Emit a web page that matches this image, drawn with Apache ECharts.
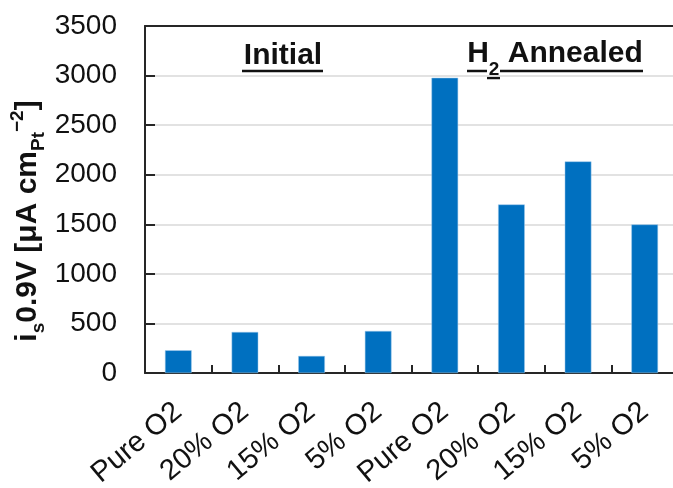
<!DOCTYPE html>
<html>
<head>
<meta charset="utf-8">
<script src="https://cdn.jsdelivr.net/npm/echarts@6/dist/echarts.min.js"></script>
<style>
html,body{margin:0;padding:0;background:#fff;}
#chart{width:673px;height:488px;}
</style>
</head>
<body>
<div id="chart"></div>
<script>
const categories = ['Pure O2', '20% O2', '15% O2', '5% O2', 'Pure O2', '20% O2', '15% O2', '5% O2'];
const values = [229, 414, 172, 424, 2978, 1700, 2134, 1498];
const yTicks = { min: 0, max: 3500, interval: 500 };
const groupLabels = ['Initial', 'H2 Annealed'];

const chart = echarts.init(document.getElementById('chart'));
const AX = '#262626';
const FONT = '"Liberation Sans", Arial, sans-serif';

const option = {
  animation: false,
  grid: { left: 145, right: -5, top: 26, bottom: 115, containLabel: false, outerBoundsMode: 'none' },
  xAxis: [{
    type: 'category',
    data: categories,
    boundaryGap: true,
    axisLine: { show: true, lineStyle: { color: AX, width: 2 } },
    axisTick: { show: true, inside: true, length: 8, lineStyle: { color: AX, width: 2 } },
    axisLabel: { rotate: 40, margin: 35, fontSize: 29, color: '#111', fontFamily: FONT, interval: 0 },
    splitLine: { show: false }
  }, {
    type: 'category',
    data: categories,
    position: 'top',
    axisLine: { show: true, lineStyle: { color: AX, width: 2 } },
    axisTick: { show: false },
    axisLabel: { show: false }
  }],
  yAxis: {
    type: 'value',
    min: yTicks.min, max: yTicks.max, interval: yTicks.interval,
    axisLine: { show: true, lineStyle: { color: AX, width: 2 } },
    axisTick: { show: true, inside: true, length: 10, lineStyle: { color: AX, width: 2 } },
    axisLabel: { margin: 28, fontSize: 28, color: '#111', fontFamily: FONT, formatter: (v) => String(v) },
    splitLine: { show: true, lineStyle: { color: '#d9d9d9', width: 1.5 } }
  },
  series: [{
    type: 'bar',
    data: values,
    barWidth: '40%',
    itemStyle: { color: '#0070C0', borderColor: '#9cc8ea', borderWidth: 0.5 }
  }],
  graphic: [
    {
      type: 'text',
      x: 28, y: 221,
      rotation: Math.PI / 2,
      style: {
        text: '{m|i}{s|s}{m|0.9V [μA cm}{s|Pt}{p|−2}{m|]}',
        align: 'center', verticalAlign: 'middle',
        fill: '#111',
        rich: {
          m: { fontSize: 30, fontWeight: 'bold', fontFamily: FONT, lineHeight: 40, fill: '#111' },
          s: { fontSize: 19, fontWeight: 'bold', fontFamily: FONT, verticalAlign: 'bottom', lineHeight: 22, fill: '#111' },
          p: { fontSize: 19, fontWeight: 'bold', fontFamily: FONT, verticalAlign: 'top', lineHeight: 22, fill: '#111' }
        }
      }
    },
    {
      type: 'text', x: 283, y: 71,
      style: { text: groupLabels[0], align: 'center', verticalAlign: 'bottom', fontSize: 30, fontWeight: 'bold', fontFamily: FONT, fill: '#111' }
    },
    {
      type: 'line', shape: { x1: 242, y1: 71, x2: 323, y2: 71 }, style: { stroke: '#111', lineWidth: 2.5 }
    },
    {
      type: 'text', x: 555, y: 71,
      style: {
        text: '{m|H}{s|2}{m| Annealed}',
        align: 'center', verticalAlign: 'bottom', fill: '#111',
        rich: {
          m: { fontSize: 30, fontWeight: 'bold', fontFamily: FONT, lineHeight: 34, fill: '#111' },
          s: { fontSize: 19, fontWeight: 'bold', fontFamily: FONT, verticalAlign: 'bottom', lineHeight: 18, fill: '#111', padding: [0, 0, -8, 0] }
        }
      }
    },
    { type: 'line', shape: { x1: 467, y1: 71, x2: 487, y2: 71 }, style: { stroke: '#111', lineWidth: 2.5 } },
    { type: 'line', shape: { x1: 487, y1: 78, x2: 500, y2: 78 }, style: { stroke: '#111', lineWidth: 2.5 } },
    { type: 'line', shape: { x1: 500, y1: 71, x2: 643, y2: 71 }, style: { stroke: '#111', lineWidth: 2.5 } }
  ]
};
chart.setOption(option);
</script>
</body>
</html>
